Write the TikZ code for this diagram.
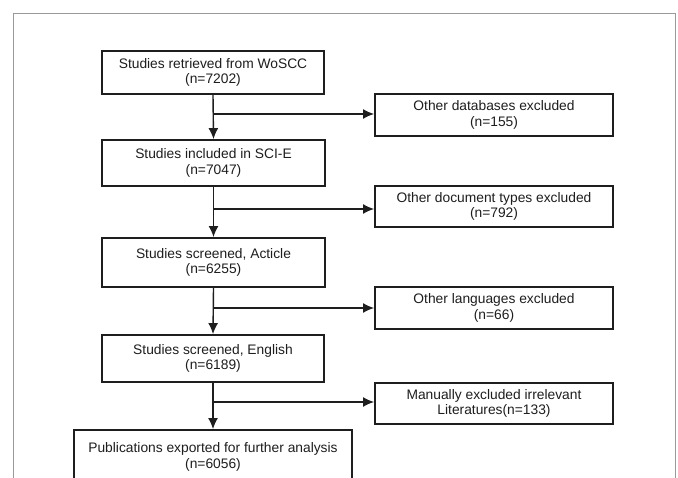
\documentclass[tikz,border=0pt]{standalone}
\usepackage{fontspec}
\setmainfont{Liberation Sans}
\usetikzlibrary{arrows.meta}
\definecolor{ink}{HTML}{1E1E1E}
\definecolor{framegray}{HTML}{9A9A9A}
\tikzset{
  flowbox/.style={draw=ink, line width=1.9pt, inner sep=0pt, align=center, text=ink,
    font=\fontsize{13.8}{15.5}\selectfont},
  flowarrow/.style={draw=ink, line width=1.4pt, -{Latex[length=11pt,width=10pt]}},
  flowline/.style={draw=ink, line width=1.4pt}
}
\begin{document}
\begin{tikzpicture}[x=1pt,y=-1pt]
\useasboundingbox (0,0) rectangle (678,478);
\clip (0,0) rectangle (678,478);
\fill[white] (0,0) rectangle (678,478);
\draw[framegray, line width=1pt] (13,520) -- (13,14) -- (675,14) -- (675,520);
% left column
\node[flowbox, minimum width=222pt, minimum height=43pt] (b1) at (213,72.5) {Studies retrieved from WoSCC\\(n=7202)};
\node[flowbox, minimum width=223pt, minimum height=46pt] (b2) at (213.5,163) {Studies included in SCI-E\\(n=7047)};
\node[flowbox, minimum width=223pt, minimum height=49pt] (b3) at (213.5,262.5) {Studies screened, Acticle\\(n=6255)};
\node[flowbox, minimum width=222pt, minimum height=47pt] (b4) at (213,358.5) {Studies screened, English\\(n=6189)};
\node[flowbox, minimum width=278pt, minimum height=54pt] (b5) at (213,457) {Publications exported for further analysis\\(n=6056)};
% right column
\node[flowbox, minimum width=238pt, minimum height=42pt] (r1) at (494,115) {Other databases excluded\\(n=155)};
\node[flowbox, minimum width=238pt, minimum height=41pt] (r2) at (494,206.5) {Other document types excluded\\(n=792)};
\node[flowbox, minimum width=238pt, minimum height=42pt] (r3) at (494,308) {Other languages excluded\\(n=66)};
\node[flowbox, minimum width=238pt, minimum height=41pt] (r4) at (494,403.5) {Manually excluded irrelevant\\Literatures(n=133)};
% branch points
\coordinate (j1) at (213,114);
\coordinate (j2) at (213,209);
\coordinate (j3) at (213,308);
\coordinate (j4) at (213,402);
% vertical arrows
\draw[flowarrow] (b1.south) -- (b2.north);
\draw[flowarrow] (b2.south) -- (b3.north);
\draw[flowarrow] (b3.south) -- (b4.north);
\draw[flowarrow] (b4.south) -- (b5.north);
% horizontal arrows
\draw[flowarrow] (j1) -- (j1 -| r1.west);
\draw[flowarrow] (j2) -- (j2 -| r2.west);
\draw[flowarrow] (j3) -- (j3 -| r3.west);
\draw[flowarrow] (j4) -- (j4 -| r4.west);
\end{tikzpicture}
\end{document}
